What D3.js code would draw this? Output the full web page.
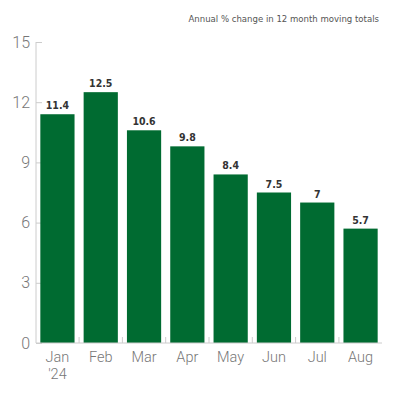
<!DOCTYPE html>
<html>
<head>
<meta charset="utf-8">
<script src="https://cdn.jsdelivr.net/npm/d3@7"></script>
<style>
  body { margin: 0; background: #fff; }
  svg { display: block; }
</style>
</head>
<body>
<div id="chart"></div>
<script>
var months = ["Jan", "Feb", "Mar", "Apr", "May", "Jun", "Jul", "Aug"];
var values = [11.4, 12.5, 10.6, 9.8, 8.4, 7.5, 7, 5.7];
var yTicks = [0, 3, 6, 9, 12, 15];
var title = "Annual % change in 12 month moving totals";

var width = 400, height = 400;
var plotLeft = 36, plotRight = 382, plotTop = 42, plotBottom = 343;

var svg = d3.select("#chart").append("svg")
    .attr("width", width)
    .attr("height", height);

var x = d3.scaleBand()
    .domain(months)
    .range([plotLeft, plotRight])
    .paddingInner(0.21)
    .paddingOuter(0.1);

var y = d3.scaleLinear()
    .domain([0, 15])
    .range([plotBottom, plotTop]);

// title
svg.append("text")
    .attr("x", 379)
    .attr("y", 22)
    .attr("text-anchor", "end")
    .style("font-family", "'DejaVu Sans Condensed', 'DejaVu Sans'")
    .style("font-size", "9.5px")
    .style("fill", "#555")
    .text(title);

// y axis
var yAxis = svg.append("g")
    .attr("transform", "translate(" + plotLeft + ",0)")
    .call(d3.axisRight(y).tickValues(yTicks).tickSize(6).tickFormat(d3.format("d")));
yAxis.select(".domain").attr("stroke", "#ccc").attr("d", "M0," + plotTop + "V" + plotBottom);
yAxis.selectAll(".tick line").attr("stroke", "#ccc");
yAxis.selectAll(".tick text")
    .attr("x", -6)
    .attr("text-anchor", "end")
    .style("font-family", "Roboto")
    .style("font-weight", "300")
    .style("font-size", "16px")
    .style("fill", "#777");

// bars
svg.selectAll("rect.bar")
    .data(values)
    .enter()
    .append("rect")
    .attr("class", "bar")
    .attr("x", function(d, i) { return x(months[i]); })
    .attr("y", function(d) { return y(d); })
    .attr("width", x.bandwidth())
    .attr("height", function(d) { return y(0) - y(d); })
    .attr("fill", "#006b31");

// value labels
svg.selectAll("text.val")
    .data(values)
    .enter()
    .append("text")
    .attr("class", "val")
    .attr("x", function(d, i) { return x(months[i]) + x.bandwidth() / 2; })
    .attr("y", function(d) { return y(d) - 5; })
    .attr("text-anchor", "middle")
    .style("font-family", "'DejaVu Sans Condensed', 'DejaVu Sans'")
    .style("font-weight", "bold")
    .style("font-size", "10.5px")
    .style("fill", "#333")
    .text(function(d) { return d; });

// x axis line
svg.append("line")
    .attr("x1", plotLeft).attr("x2", plotRight)
    .attr("y1", plotBottom).attr("y2", plotBottom)
    .attr("stroke", "#ccc");

// separators between bars
var step = x.step();
svg.selectAll("line.sep")
    .data(months.slice(1))
    .enter()
    .append("line")
    .attr("class", "sep")
    .attr("x1", function(d) { return x(d) - (step - x.bandwidth()) / 2; })
    .attr("x2", function(d) { return x(d) - (step - x.bandwidth()) / 2; })
    .attr("y1", plotBottom - 6)
    .attr("y2", plotBottom)
    .attr("stroke", "#ccc");

// month labels
var labels = svg.selectAll("text.month")
    .data(months)
    .enter()
    .append("text")
    .attr("class", "month")
    .attr("x", function(d) { return x(d) + x.bandwidth() / 2; })
    .attr("y", 362)
    .attr("text-anchor", "middle")
    .style("font-family", "Roboto")
    .style("font-weight", "300")
    .style("font-size", "14.5px")
    .style("fill", "#777");
labels.append("tspan").text(function(d) { return d; });
labels.filter(function(d, i) { return i === 0; })
    .append("tspan")
    .attr("x", x(months[0]) + x.bandwidth() / 2)
    .attr("dy", 17)
    .text("'24");
</script>
</body>
</html>
